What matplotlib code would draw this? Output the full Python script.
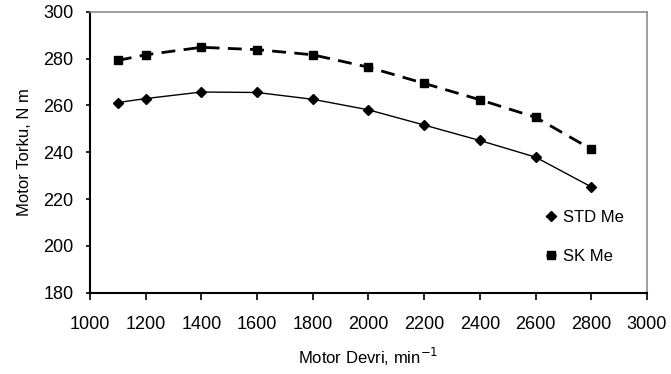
import matplotlib
matplotlib.use("Agg")
import matplotlib.pyplot as plt

# =============================================================================
# Data
# =============================================================================

motor_speed = [1100, 1200, 1400, 1600, 1800, 2000, 2200, 2400, 2600, 2800]
torque_std = [261.2, 262.9, 265.7, 265.5, 262.6, 258.1, 251.6, 245.0, 237.9, 225.2]
torque_sk = [279.2, 281.6, 284.8, 283.8, 281.6, 276.3, 269.4, 262.4, 254.9, 241.3]

x_ticks = list(range(1000, 3001, 200))
y_ticks = list(range(180, 301, 20))

plt.rcParams["font.family"] = ["Liberation Sans", "DejaVu Sans"]

# =============================================================================
# Plot
# =============================================================================

fig = plt.figure(figsize=(6.71, 3.74), dpi=100)
ax = fig.add_axes([0.1341, 0.2174, 0.830, 0.7513])

ax.plot(
    motor_speed,
    torque_std,
    color="black",
    linewidth=1.0,
    marker="D",
    markersize=5.5,
    label="STD Me",
)
ax.plot(
    motor_speed,
    torque_sk,
    color="black",
    linewidth=2.0,
    linestyle=(0, (5, 3)),
    marker="s",
    markersize=6,
    label="SK Me",
)

ax.set_xlim(1000, 3000)
ax.set_ylim(180, 300)
ax.set_xticks(x_ticks)
ax.set_yticks(y_ticks)
ax.tick_params(axis="x", direction="out", length=5, width=1.2, pad=12,
               labelsize=13, colors="black")
ax.tick_params(axis="y", direction="out", length=3, width=1.2, pad=9,
               labelsize=13, colors="black")

for side in ["top", "right"]:
    ax.spines[side].set_color("#8c8c8c")
    ax.spines[side].set_linewidth(1.2)
for side in ["left", "bottom"]:
    ax.spines[side].set_linewidth(1.5)

ax.set_xlabel("Motor Devri, min$^{-1}$", fontsize=12, labelpad=9)
ax.set_ylabel("Motor Torku, N m", fontsize=12, labelpad=8)

ax.legend(
    loc="lower right",
    bbox_to_anchor=(0.985, 0.05),
    frameon=False,
    fontsize=12,
    handlelength=0.6,
    handletextpad=0.4,
    labelspacing=1.4,
)

plt.savefig("out.png", dpi=100)
